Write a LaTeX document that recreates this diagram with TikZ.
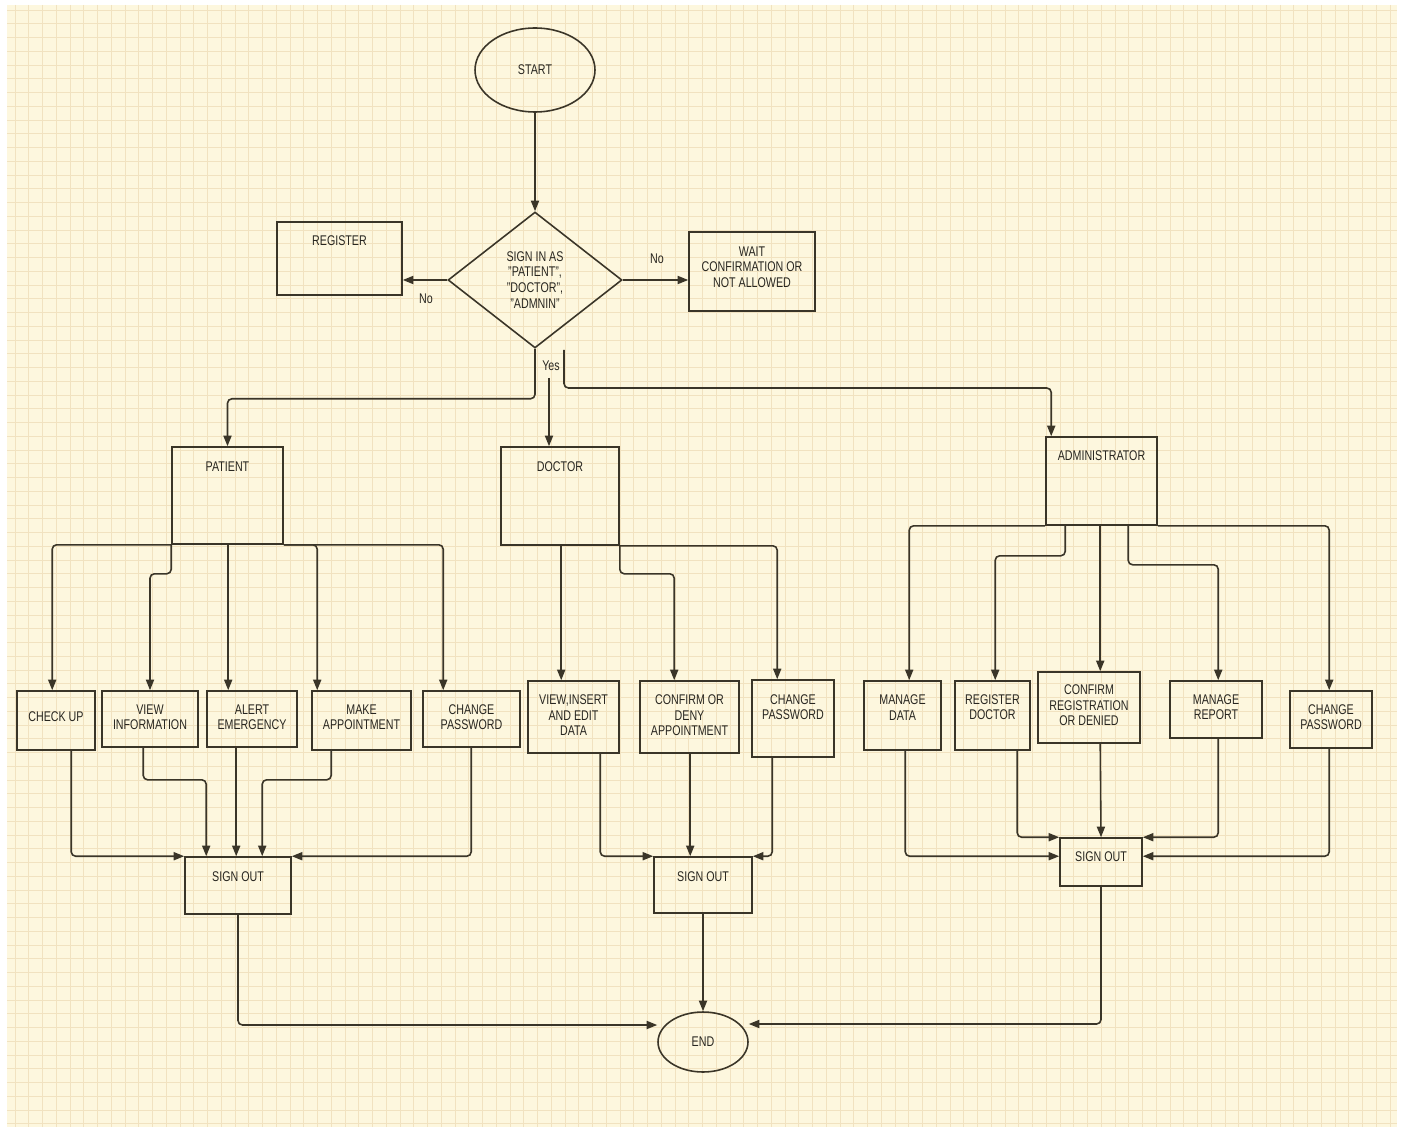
\documentclass[tikz,border=0pt]{standalone}
\usepackage{fontspec}
\setmainfont{Liberation Sans}[FakeStretch=0.76]
\usetikzlibrary{shapes.geometric,arrows.meta,calc,fit}
\definecolor{bgc}{RGB}{253,247,222}
\definecolor{gridc}{RGB}{241,226,192}
\definecolor{ink}{RGB}{58,53,40}
\definecolor{txtc}{RGB}{40,38,32}
\begin{document}
\begin{tikzpicture}[x=0.02cm,y=-0.02cm,
  box/.style={draw=ink,line width=0.9pt,rectangle,inner sep=0pt},
  lbl/.style={text=txtc,font=\fontsize{8}{9}\selectfont,align=center,inner sep=0pt},
  oval/.style={draw=ink,line width=0.9pt,ellipse,inner sep=0pt,text=txtc,font=\fontsize{8}{9}\selectfont},
  arr/.style={draw=ink,line width=0.9pt,rounded corners=2.5pt,-{Triangle[length=6pt,width=4.6pt]}},
  ]
\useasboundingbox (0,0) rectangle (1405,1131);
\fill[white] (0,0) rectangle (1405,1131);
\fill[bgc] (7,5) rectangle (1397,1127);
\begin{scope}
\clip (7,5) rectangle (1397,1127);
\foreach \i in {0,...,101} { \draw[gridc,line width=0.4pt] ({15+13.75*\i},5) -- ({15+13.75*\i},1127); }
\foreach \j in {0,...,82} { \draw[gridc,line width=0.4pt] (7,{10+13.75*\j}) -- (1397,{10+13.75*\j}); }
\end{scope}

% start / decision
\node[oval,minimum width=2.4cm,minimum height=1.68cm] (start) at (535,70) {START};
\node[draw=ink,line width=0.9pt,diamond,inner sep=0pt,minimum width=3.48cm,minimum height=2.72cm] (dia) at (535,280) {};
\node[lbl] (dia-t) at (dia.center) {SIGN IN AS\\"PATIENT",\\"DOCTOR",\\"ADMNIN"};

\node[box,fit={(277,222) (402,295)}] (reg) {};
\node[lbl] (reg-t) at ($(reg.north)+(0,19)$) {REGISTER};
\node[box,fit={(689,232) (815,311)}] (wait) {};
\node[lbl] (wait-t) at ($(wait.north)+(0,36)$) {WAIT\\CONFIRMATION OR\\NOT ALLOWED};

% role boxes
\node[box,fit={(172,447) (283,544)}] (pat) {};
\node[lbl] (pat-t) at ($(pat.north)+(0,20)$) {PATIENT};
\node[box,fit={(501,447) (619,545)}] (doc) {};
\node[lbl] (doc-t) at ($(doc.north)+(0,20)$) {DOCTOR};
\node[box,fit={(1046,437) (1157,525)}] (adm) {};
\node[lbl] (adm-t) at ($(adm.north)+(0,19)$) {ADMINISTRATOR};

% patient tasks
\node[box,fit={(17,691) (95,750)}] (chk) {};
\node[lbl] (chk-t) at ($(chk.north)+(0,26)$) {CHECK UP};
\node[box,fit={(102,691) (198,747)}] (view) {};
\node[lbl] (view-t) at ($(view.north)+(0,27)$) {VIEW\\INFORMATION};
\node[box,fit={(207,691) (297,747)}] (alert) {};
\node[lbl] (alert-t) at ($(alert.north)+(0,27)$) {ALERT\\EMERGENCY};
\node[box,fit={(312,691) (411,750)}] (make) {};
\node[lbl] (make-t) at ($(make.north)+(0,27)$) {MAKE\\APPOINTMENT};
\node[box,fit={(423,691) (520,747)}] (cpw1) {};
\node[lbl] (cpw1-t) at ($(cpw1.north)+(0,27)$) {CHANGE\\PASSWORD};

% doctor tasks
\node[box,fit={(528,681) (619,753)}] (vie) {};
\node[lbl] (vie-t) at ($(vie.north)+(0,35)$) {VIEW,INSERT\\AND EDIT\\DATA};
\node[box,fit={(640,681) (739,753)}] (cod) {};
\node[lbl] (cod-t) at ($(cod.north)+(0,35)$) {CONFIRM OR\\DENY\\APPOINTMENT};
\node[box,fit={(752,680) (834,757)}] (cpw2) {};
\node[lbl] (cpw2-t) at ($(cpw2.north)+(0,28)$) {CHANGE\\PASSWORD};

% admin tasks
\node[box,fit={(864,681) (941,750)}] (mdata) {};
\node[lbl] (mdata-t) at ($(mdata.north)+(0,27)$) {MANAGE\\DATA};
\node[box,fit={(955,681) (1030,750)}] (regd) {};
\node[lbl] (regd-t) at ($(regd.north)+(0,27)$) {REGISTER\\DOCTOR};
\node[box,fit={(1038,672) (1140,743)}] (crd) {};
\node[lbl] (crd-t) at ($(crd.north)+(0,34)$) {CONFIRM\\REGISTRATION\\OR DENIED};
\node[box,fit={(1170,681) (1262,738)}] (mrep) {};
\node[lbl] (mrep-t) at ($(mrep.north)+(0,27)$) {MANAGE\\REPORT};
\node[box,fit={(1290,691) (1372,748)}] (cpw3) {};
\node[lbl] (cpw3-t) at ($(cpw3.north)+(0,27)$) {CHANGE\\PASSWORD};

% sign out boxes
\node[box,fit={(185,857) (291,914)}] (so1) {};
\node[lbl] (so1-t) at ($(so1.north)+(0,20)$) {SIGN OUT};
\node[box,fit={(654,857) (752,913)}] (so2) {};
\node[lbl] (so2-t) at ($(so2.north)+(0,20)$) {SIGN OUT};
\node[box,fit={(1060,838) (1142,886)}] (so3) {};
\node[lbl] (so3-t) at ($(so3.north)+(0,19)$) {SIGN OUT};

\node[oval,minimum width=1.8cm,minimum height=1.2cm] (endn) at (703,1042) {END};

% labels
\node[lbl] (no1) at (426,299) {No};
\node[lbl] (no2) at (657,259) {No};
\node[lbl] (yes) at (551,366) {Yes};
\coordinate (ydoc) at (549,378);
\coordinate (yadm) at (564,350);

% connectors top
\draw[arr] (start) -- (dia);
\draw[arr] (dia.west) -- (reg.east |- dia.west);
\draw[arr] (dia.east) -- (wait.west |- dia.east);
\draw[arr] (dia.south) -- ++(0,50) -| (pat.north);
\draw[arr] (ydoc) -- (ydoc |- doc.north);
\draw[arr] (yadm) -- ++(0,38) -| ($(adm.north west)+(6,0)$);

% patient branches
\draw[arr] (pat.south west) -| ($(chk.north west)+(36,0)$);
\draw[arr] (pat.south west) -- ++(0,29) -| (view.north);
\draw[arr] ($(pat.south west)+(57,0)$) -- ($(alert.north west)+(22,0)$);
\draw[arr] (pat.south east) -| ($(make.north west)+(6,0)$);
\draw[arr] (pat.south east) -| ($(cpw1.north west)+(21,0)$);

\draw[arr] ($(chk.south west)+(55,0)$) |- (so1.north west);
\draw[arr] ($(view.south west)+(42,0)$) -- ++(0,32) -| ($(so1.north west)+(22,0)$);
\draw[arr] ($(alert.south west)+(30,0)$) -- ($(so1.north west)+(52,0)$);
\draw[arr] ($(make.south west)+(20,0)$) -- ++(0,29) -| ($(so1.north west)+(78,0)$);
\draw[arr] ($(cpw1.south west)+(49,0)$) |- (so1.north east);

% doctor branches
\draw[arr] ($(doc.south west)+(61,0)$) -- ($(vie.north west)+(34,0)$);
\draw[arr] (doc.south east) -- ++(0,28) -| ($(cod.north west)+(35,0)$);
\draw[arr] (doc.south east) -| ($(cpw2.north west)+(26,0)$);

\draw[arr] ($(vie.south west)+(73,0)$) |- (so2.north west);
\draw[arr] ($(cod.south west)+(51,0)$) -- ($(so2.north west)+(37,0)$);
\draw[arr] ($(cpw2.south west)+(21,0)$) |- (so2.north east);

% admin branches
\draw[arr] (adm.south west) -| ($(mdata.north west)+(46,0)$);
\draw[arr] ($(adm.south west)+(20,0)$) -- ++(0,30) -| ($(regd.north west)+(41,0)$);
\draw[arr] ($(adm.south west)+(55,0)$) -- ($(crd.north west)+(63,0)$);
\draw[arr] ($(adm.south west)+(83,0)$) -- ++(0,39) -| ($(mrep.north west)+(49,0)$);
\draw[arr] (adm.south east) -| ($(cpw3.north west)+(40,0)$);

\draw[arr] ($(mdata.south west)+(42,0)$) |- ($(so3.north west)+(0,19)$);
\draw[arr] ($(regd.south west)+(63,0)$) |- (so3.north west);
\draw[arr] ($(crd.south west)+(63,0)$) -- (so3.north);
\draw[arr] ($(mrep.south west)+(49,0)$) |- (so3.north east);
\draw[arr] ($(cpw3.south west)+(40,0)$) |- ($(so3.north east)+(0,19)$);

% to end
\draw[arr] (so1.south) |- ($(endn.west)+(0,-17)$);
\draw[arr] (so2.south) -- (so2.south |- endn.north);
\draw[arr] (so3.south) |- ($(endn.east)+(0,-18)$);
\end{tikzpicture}
\end{document}
